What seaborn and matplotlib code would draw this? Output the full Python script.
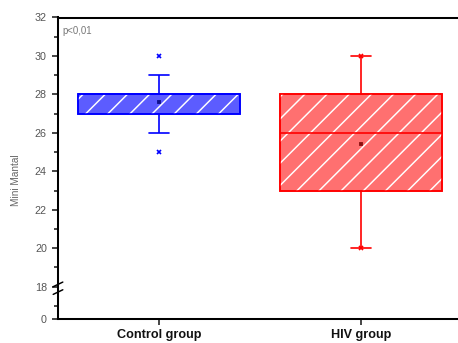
import matplotlib
matplotlib.use("Agg")
import matplotlib.pyplot as plt
from matplotlib.patches import PathPatch
import numpy as np
import pandas as pd
import seaborn as sns

# Mini Mental scores: lower whisker, Q1, median, Q3, upper whisker per group
groups = ["Control group", "HIV group"]
control_scores = [26, 27, 28, 28, 29]
hiv_scores = [20, 23, 26, 28, 30]
# extreme values (min / max) shown as separate markers
group_min = [25, 20]
group_max = [30, 30]

fill_colors = ["#5c5cff", "#ff7070"]
edge_colors = ["#0000ff", "#ff0000"]
mean_colors = ["#10108a", "#8a1010"]

major_ticks = [18, 20, 22, 24, 26, 28, 30, 32]
minor_ticks = [17, 19, 21, 23, 25, 27, 29, 31]
y_zero_pos = 16.32  # where the "0" of the broken axis is placed

df = pd.DataFrame({
    "group": [groups[0]] * len(control_scores) + [groups[1]] * len(hiv_scores),
    "score": control_scores + hiv_scores,
})

sns.set_style("ticks")
plt.rcParams["font.family"] = ["Liberation Sans", "DejaVu Sans"]
plt.rcParams["hatch.linewidth"] = 0.8

DPI = 133.333
fig = plt.figure(figsize=(458 / DPI, 343 / DPI), dpi=DPI)
ax = fig.add_axes([58 / 458, 24 / 343, 400 / 458, 301.5 / 343])

for i, g in enumerate(groups):
    sub = df[df["group"] == g]
    n_before = len(ax.patches)
    sns.boxplot(
        data=sub, x="group", y="score", order=groups, ax=ax,
        color=fill_colors[i], linecolor=edge_colors[i], linewidth=0.9,
        width=0.8, showfliers=False, capwidths=0.1, saturation=1,
        showmeans=True,
        meanprops=dict(marker="s", markersize=1.1, markerfacecolor=mean_colors[i],
                       markeredgecolor=mean_colors[i]),
        medianprops=dict(color=edge_colors[i], linewidth=0.9),
    )
    for p in ax.patches[n_before:]:
        z = p.get_zorder()
        hatch = PathPatch(p.get_path(), transform=p.get_transform(),
                          facecolor="none", edgecolor="white", hatch="//",
                          linewidth=0, zorder=z + 0.001)
        ax.add_patch(hatch)
        edge = PathPatch(p.get_path(), transform=p.get_transform(),
                         facecolor="none", edgecolor=edge_colors[i],
                         linewidth=0.9, zorder=z + 0.002)
        ax.add_patch(edge)
    ax.plot([i, i], [group_min[i], group_max[i]], linestyle="none",
            marker="x", markersize=2.4, markeredgewidth=0.9,
            color=edge_colors[i], zorder=5)

ax.set_xlim(-0.5, 1.48)
ax.set_ylim(y_zero_pos, 32)
ax.set_yticks([y_zero_pos] + major_ticks)
ax.set_yticklabels(["0"] + [str(t) for t in major_ticks])
ax.set_yticks(minor_ticks, minor=True)

ax.set_xlabel("")
ax.set_ylabel("Mini Mantal", fontsize=5.4, color="#666666")
ax.yaxis.set_label_coords(-0.093, 0.46)

ax.tick_params(axis="y", which="major", labelsize=5.8, labelcolor="#555555",
               length=3.5, width=0.9, direction="out", pad=2.5)
ax.tick_params(axis="y", which="minor", length=2, width=0.9, direction="out")
ax.tick_params(axis="x", which="major", length=3.5, width=0.9,
               direction="out", pad=2)
for lbl in ax.get_xticklabels():
    lbl.set_fontweight("bold")
    lbl.set_fontsize(6.8)
    lbl.set_color("#111111")

for side in ["left", "bottom", "top"]:
    ax.spines[side].set_linewidth(1.1)
    ax.spines[side].set_color("black")
ax.spines["right"].set_visible(False)

# break marks on the y axis
trans = ax.get_yaxis_transform()
for dy in (-0.28, 0.12):
    ax.plot([-0.012, 0.012], [18 + dy - 0.12, 18 + dy + 0.12],
            transform=trans, color="black", linewidth=0.8, clip_on=False,
            zorder=6)

ax.text(0.012, 0.955, "p<0,01", transform=ax.transAxes, fontsize=5.2,
        color="#777777", ha="left", va="center")

fig.savefig("out.png", dpi=DPI)
